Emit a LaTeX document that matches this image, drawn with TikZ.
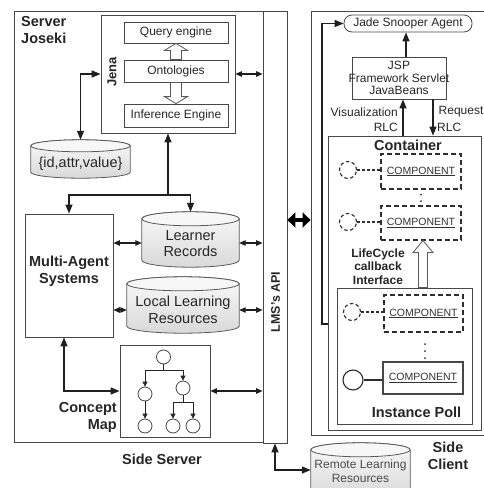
\documentclass[tikz,border=0pt]{standalone}
\usepackage{fontspec}
\setmainfont{Liberation Sans}
\usetikzlibrary{arrows.meta,calc,fit}

\tikzset{
  boxline/.style={draw=black!72, line width=0.8pt},
  area/.style={boxline, inner sep=0pt},
  cylarea/.style={inner sep=0pt, draw=none},
  plain/.style={font=\fontsize{12}{14}\selectfont, inner sep=0pt, align=center, text=black!85},
  bold/.style={font=\bfseries\fontsize{14.5}{17}\selectfont, inner sep=0pt, align=center, text=black!85},
  cylbody/.style={draw=black!65, line width=0.8pt, top color=gray!4, bottom color=gray!30},
  cylcap/.style={draw=black!65, line width=0.8pt, fill=gray!6},
  link/.style={draw=black!88, line width=1.3pt, -{Triangle[length=9pt,width=7pt]}},
  linkback/.style={draw=black!88, line width=1.3pt, {Triangle[length=9pt,width=7pt]}-},
  links/.style={draw=black!88, line width=1.3pt, {Triangle[length=9pt,width=7pt]}-{Triangle[length=9pt,width=7pt]}},
  slinks/.style={draw=black!88, line width=1.1pt, {Triangle[length=6.5pt,width=5.5pt]}-{Triangle[length=6.5pt,width=5.5pt]}},
  bigarrow/.style={draw=black, line width=4.5pt, {Triangle[length=8pt,width=15pt]}-{Triangle[length=8pt,width=15pt]}},
  hollow/.style={draw=black!65, line width=0.8pt, fill=white, line join=miter},
  tline/.style={draw=black!85, line width=0.9pt},
  tarr/.style={draw=black!85, line width=0.9pt, -{Triangle[length=5pt,width=5pt]}},
  tnode/.style={circle, draw=black!72, line width=0.8pt, minimum size=14pt, inner sep=0pt, fill=white},
  dashbox/.style={draw=black!82, line width=1.1pt, dash pattern=on 5pt off 3pt, inner sep=0pt, fill=white},
  dcirc/.style={circle, draw=black!82, line width=1.1pt, dash pattern=on 3.5pt off 2.5pt, minimum size=17pt, inner sep=0pt},
  dashlink/.style={draw=black!82, line width=1.1pt, dash pattern=on 3pt off 2pt},
  comp/.style={font=\fontsize{10.5}{12}\selectfont, text=black!80, inner sep=0pt},
}

% cylinder drawn inside the rectangle of a named node; #2 = half height of the caps
\newcommand\cylshape[2]{%
  \path[cylbody] let \p1=(#1.north west), \p2=(#1.south east), \n1={(\x2-\x1)/2} in
    (\x1,{\y1-#2}) -- (\x1,{\y2+#2})
    arc[start angle=180, end angle=360, x radius=\n1, y radius=#2]
    -- (\x2,{\y1-#2})
    arc[start angle=0, end angle=180, x radius=\n1, y radius=#2] -- cycle;
  \path[cylcap] let \p1=(#1.north west), \p2=(#1.south east), \n1={(\x2-\x1)/2} in
    ({(\x1+\x2)/2},{\y1-#2}) ellipse[x radius=\n1, y radius=#2];
}

% hollow vertical block arrow: from, to, shaft half width, head half width, signed head length
\newcommand\fatarrow[5]{%
  \draw[hollow] let \p1=(#1), \p2=(#2) in
    ({\x1-#3},\y1) -- ({\x1-#3},{\y2+(#5)}) -- ({\x1-#4},{\y2+(#5)}) -- (\x1,\y2)
    -- ({\x1+#4},{\y2+(#5)}) -- ({\x1+#3},{\y2+(#5)}) -- ({\x1+#3},\y1) -- cycle;
}

\begin{document}
\begin{tikzpicture}[x=1pt,y=1pt]
\fill[white] (0,0) rectangle (484,-488);
\useasboundingbox (0,0) rectangle (484,-488);

% ================= server side =================
\node[area, fit={(14,-11)(263,-442)}] (server) {};
\node[area, fit={(263,-11)(287,-443)}] (lms) {};
\node[bold, font=\bfseries\fontsize{12.5}{14}\selectfont, rotate=90] (lmstext) at (275.5,-302) {LMS's API};
\node[bold, anchor=west, align=left] (servertext) at (21,-30.5) {Server\\Joseki};

% Jena block
\node[area, fit={(101,-15)(235,-133)}] (jena) {};
\node[bold, font=\bfseries\fontsize{13}{15}\selectfont, rotate=90] (jenatext) at (112,-72) {Jena};
\node[area, fit={(124,-22)(228,-43)}] (query) {};
\node[plain] (querytext) at (query) {Query engine};
\node[area, fit={(124,-60)(228,-82)}] (onto) {};
\node[plain] (ontotext) at (onto) {Ontologies};
\node[area, fit={(124,-104)(228,-127)}] (infer) {};
\node[plain] (infertext) at (infer) {Inference Engine};
\fatarrow{onto.north}{query.south}{5.5pt}{11.5pt}{-7pt}
\fatarrow{onto.south}{infer.north}{5.5pt}{11.5pt}{7pt}

% triple store
\node[cylarea, fit={(31,-140)(130,-178)}] (store) {};
\cylshape{store}{6pt}
\node[plain, font=\fontsize{14.5}{17}\selectfont] (storetext) at (80.5,-164) {\{id,attr,value\}};

% agents and repositories
\node[area, fit={(25,-214)(113,-337)}] (mas) {};
\node[bold] (mastext) at (69,-271.5) {Multi-Agent\\Systems};

\node[cylarea, fit={(142,-212)(239,-267)}] (lr) {};
\cylshape{lr}{7pt}
\node[plain, font=\fontsize{14.5}{16.5}\selectfont] (lrtext) at (190.5,-243.5) {Learner\\Records};

\node[cylarea, fit={(127,-277)(239,-333)}] (llr) {};
\cylshape{llr}{7pt}
\node[plain, font=\fontsize{14.5}{16.5}\selectfont] (llrtext) at (183,-310) {Local Learning\\Resources};

% concept map
\node[area, fit={(120,-345)(210,-437)}] (cmap) {};
\node[bold, anchor=east, align=right] (cmaptext) at (117,-417.5) {Concept\\Map};
\node[tnode] (t0) at (163.5,-357) {};
\node[tnode] (t1) at (145,-394) {};
\node[tnode] (t2) at (183,-388) {};
\node[tnode] (t3) at (145,-426) {};
\node[tnode] (t4) at (173,-426) {};
\node[tnode] (t5) at (193,-426) {};
\coordinate (tj1) at (163.5,-370);
\coordinate (tj2) at (183,-402);
\draw[tline] (t0) -- (tj1);
\draw[tarr] (tj1) -| (t1);
\draw[tarr] (tj1) -| (t2);
\draw[tarr] (t1) -- (t3);
\draw[tline] (t2) -- (tj2);
\draw[tarr] (tj2) -| (t4);
\draw[tarr] (tj2) -| (t5);

\node[bold] (sideserver) at (162,-459) {Side Server};

% server side connectors
\draw[links] (jena.west) -| (store.north);
\coordinate (split) at (168,-195);
\draw[linkback] (jena.south) -- (split);
\draw[link] (split) -| (mas.north);
\draw[link] (split) -| (lr.north);
\coordinate (y243) at (0,-243);
\coordinate (y310) at (0,-310);
\draw[slinks] (mas.east |- y243) -- (lr.west |- y243);
\draw[slinks] (mas.east |- y310) -- (llr.west |- y310);
\draw[slinks] (jena.east) -- (jena.east -| lms.west);
\draw[slinks] (lr.east |- y243) -- (lms.west |- y243);
\draw[slinks] (llr.east |- y310) -- (lms.west |- y310);
\draw[slinks] (cmap.east) -- (cmap.east -| lms.west);
\draw[links] ([xshift=-5pt]mas.south) |- (cmap.west);

% remote repository
\node[cylarea, fit={(311,-443)(410,-497)}] (remote) {};
\cylshape{remote}{7pt}
\node[plain, text=black!70] (remotetext) at (360.5,-471) {Remote Learning\\Resources};
\draw[links] (lms.south) |- (remote.west);

% ================= client side =================
\node[area, fit={(311,-11)(487,-435)}] (client) {};
\node[bold] (sideclient) at (448,-455.5) {Side\\Client};
\coordinate (y220) at (0,-220);
\draw[bigarrow] (lms.east |- y220) -- (client.west |- y220);

\node[area, rounded corners=8pt, fit={(344,-15)(472,-32)}] (jade) {};
\node[plain] (jadetext) at (jade) {Jade Snooper Agent};
\node[area, fit={(352,-57)(446,-99)}] (jsp) {};
\node[plain, font=\fontsize{12}{12.5}\selectfont] (jsptext) at (jsp) {JSP\\Framework Servlet\\JavaBeans};

\node[area, fit={(328,-136)(481,-430)}] (container) {};
\node[bold] (containertext) at (408,-145) {Container};

\coordinate (x406) at (406,0);
\coordinate (x403) at (403,0);
\coordinate (x433) at (433,0);
\coordinate (x322) at (322,0);
\coordinate (y324) at (0,-324);
\draw[link] (jsp.north -| x406) -- (jade.south -| x406);
\draw[link] (container.north -| x403) -- (jsp.south -| x403);
\draw[link] (jsp.south -| x433) -- (container.north -| x433);
\draw[link] (container.west |- y324) -| (x322 |- jade.west) -- (jade.west);

\node[plain, anchor=east] (vistext) at (398,-112) {Visualization};
\node[plain, anchor=east] (visrlc) at (398,-127) {RLC};
\node[plain, anchor=west] (reqtext) at (438.5,-112) {Request};
\node[plain, anchor=west] (reqrlc) at (437,-127) {RLC};

% active components
\node[dashbox, fit={(381,-154)(461,-189)}] (c1) {};
\node[comp] (c1text) at (c1) {\underline{COMPONENT}};
\node[dcirc] (k1) at (348,-170) {};
\draw[dashlink] (k1.east) -- (k1.east -| c1.west);
\fill[black!80] (421,-194.5) circle (1pt) (421,-201) circle (1pt);

\node[dashbox, fit={(381,-206)(461,-240)}] (c2) {};
\node[comp] (c2text) at (c2) {\underline{COMPONENT}};
\node[dcirc] (k2) at (348,-222) {};
\draw[dashlink] (k2.east) -- (k2.east -| c2.west);

% instance pool
\node[area, fit={(337,-288)(472,-424)}] (poll) {};
\node[bold] (polltext) at (416.5,-412) {Instance Poll};

\coordinate (lcx) at (423,0);
\fatarrow{poll.north -| lcx}{c2.south -| lcx}{4.5pt}{10pt}{-12pt}
\node[bold, font=\bfseries\fontsize{12}{13.5}\selectfont] (lifecycle) at (378,-266.5) {LifeCycle\\callback\\Interface};

\node[dashbox, fit={(384,-295)(463,-332)}] (c3) {};
\node[comp] (c3text) at (c3) {\underline{COMPONENT}};
\node[dcirc] (k3) at (352,-312) {};
\draw[dashlink] (k3.east) -- (k3.east -| c3.west);
\fill[black!80] (425,-344) circle (1pt) (425,-351) circle (1pt) (425,-358) circle (1pt);

\node[area, line width=1.2pt, fill=white, fit={(383,-362)(463,-394)}] (c4) {};
\node[comp] (c4text) at (c4) {\underline{COMPONENT}};
\node[circle, draw=black!82, line width=1.1pt, minimum size=20pt, inner sep=0pt] (k4) at (353,-380) {};
\draw[draw=black!82, line width=1.1pt] (k4.east) -- (k4.east -| c4.west);
\end{tikzpicture}
\end{document}
